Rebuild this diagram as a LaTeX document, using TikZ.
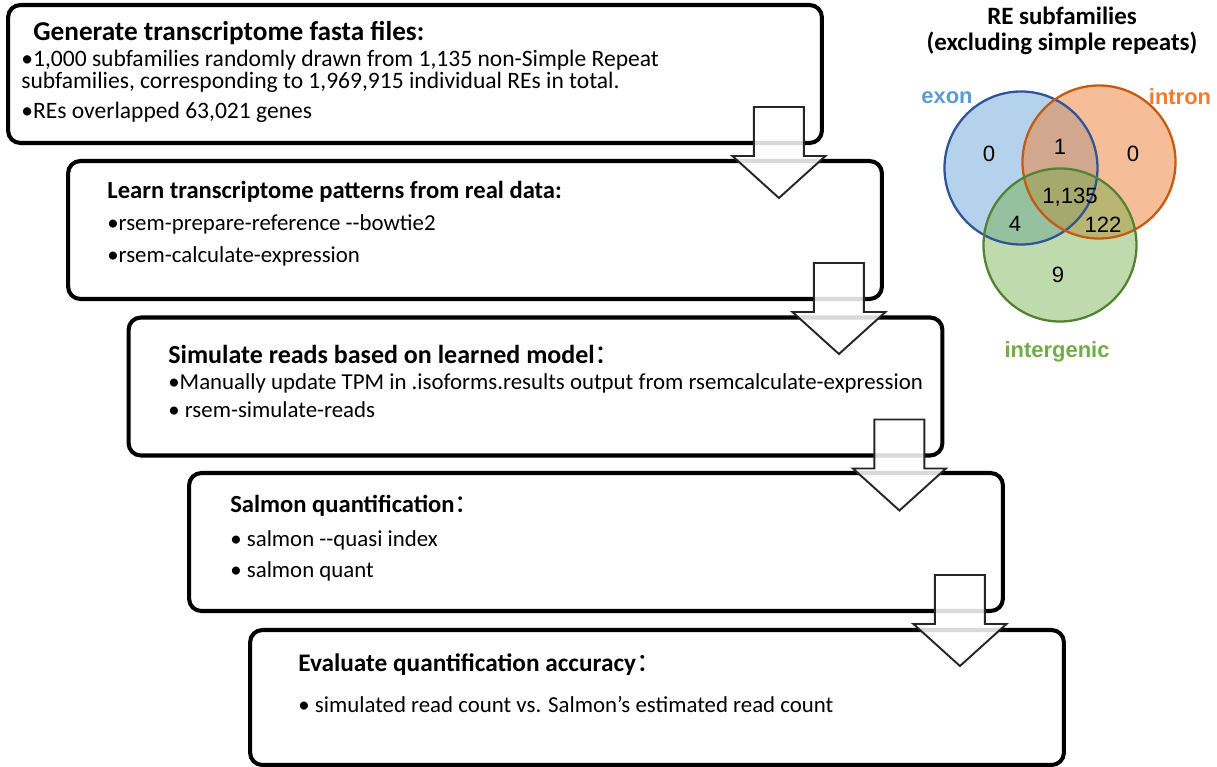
\documentclass[tikz,border=0pt]{standalone}
\usepackage{fontspec}
\setmainfont{Carlito}
\newfontfamily\arialfont{Liberation Sans}
\newfontfamily\cjk{Noto Sans CJK SC}
\usepackage{xcolor}
\definecolor{exonblue}{RGB}{91,155,213}
\definecolor{exonline}{RGB}{47,85,151}
\definecolor{intronorange}{RGB}{237,125,49}
\definecolor{intronline}{RGB}{197,90,17}
\definecolor{intergreen}{RGB}{112,173,71}
\definecolor{interline}{RGB}{84,130,53}
\definecolor{arrowgray}{RGB}{38,38,38}
\usepackage{tikz}
\usetikzlibrary{calc, positioning}

\tikzset{
  stepbox/.style={draw=black, line width=2.3pt, rounded corners=7pt,
    minimum width=16.28cm, minimum height=2.76cm, inner sep=0pt},
  steptitle/.style={anchor=west, font=\fontsize{14}{16}\selectfont\bfseries, inner sep=0pt},
  stepitem/.style={anchor=west, font=\fontsize{13}{12.5}\selectfont, inner sep=0pt, align=left},
  vennset/.style={circle, minimum size=3.06cm, inner sep=0pt},
  vennlabel/.style={font=\arialfont\bfseries\fontsize{12.5}{14}\selectfont, inner sep=0pt},
  vennnum/.style={font=\arialfont\fontsize{12.6}{14}\selectfont, inner sep=0pt}
}
\newcommand{\fwcolon}{{\cjk\mdseries ：}}

\begin{document}
\begin{tikzpicture}[x=0.02cm, y=-0.02cm]
\useasboundingbox (0,0) rectangle (1217,767);

% === Step boxes ===
\node[stepbox] (box1) at (415,74) {};
\node[stepbox] (box2) at (475,230) {};
\node[stepbox] (box3) at (535.5,386.5) {};
\node[stepbox] (box4) at (596,542) {};
\node[stepbox, minimum height=2.7cm] (box5) at (657,697.5) {};

% Block arrows between steps (half see-through)
\foreach \i in {1,2,3,4} {
  \draw[arrowgray, line width=1.1pt, fill=white, fill opacity=0.85, line join=miter]
    ($(box\i.south east)+(-70,-38)$) -- ++(50,0) -- ++(0,49) -- ++(21.5,0)
    -- ++(-46.5,42) -- ++(-46.5,-42) -- ++(21.5,0) -- cycle;
}

% === Step 1 ===
\node[steptitle, font=\fontsize{15.5}{17}\selectfont\bfseries] (t1) at (33,33)
  {Generate transcriptome fasta files:};
\node[stepitem, font=\fontsize{13.4}{12.5}\selectfont] (i1a) at (21,71)
  {•1,000 subfamilies randomly drawn from 1,135 non-Simple Repeat\\
   subfamilies, corresponding to 1,969,915 individual REs in total.};
\node[stepitem, font=\fontsize{13.4}{12.5}\selectfont] (i1b) at (21,112)
  {•REs overlapped 63,021 genes};

% === Step 2 ===
\node[steptitle] (t2) at (107,192) {Learn transcriptome patterns from real data:};
\node[stepitem] (i2a) at (107,224) {•rsem-prepare-reference -{}-bowtie2};
\node[stepitem] (i2b) at (107,256) {•rsem-calculate-expression};

% === Step 3 ===
\node[steptitle, font=\fontsize{14.8}{17}\selectfont\bfseries] (t3) at (168,354)
  {Simulate reads based on learned model\fwcolon};
\node[stepitem] (i3a) at (168,383)
  {•Manually update TPM in .isoforms.results output from rsemcalculate-expression};
\node[stepitem] (i3b) at (168,410) {• rsem-simulate-reads};

% === Step 4 ===
\node[steptitle] (t4) at (230,506) {Salmon quantification\fwcolon};
\node[stepitem] (i4a) at (230,540) {• salmon -{}-quasi index};
\node[stepitem] (i4b) at (230,571) {• salmon quant};

% === Step 5 ===
\node[steptitle, font=\fontsize{14.4}{17}\selectfont\bfseries] (t5) at (298,665)
  {Evaluate quantification accuracy\fwcolon};
\node[stepitem] (i5a) at (298,705) {• simulated read count vs. Salmon’s estimated read count};

% === Venn diagram ===
\node[font=\fontsize{14.2}{14.7}\selectfont\bfseries, align=center, inner sep=0pt] (vtitle) at (1062,31)
  {RE subfamilies\\(excluding simple repeats)};

% fills first, outlines on top
\node[vennset, fill=exonblue, fill opacity=0.45] (exonset) at (1021,168) {};
\node[vennset, fill=intronorange, fill opacity=0.5] (intronset) at (1099,162) {};
\node[vennset, fill=intergreen, fill opacity=0.45] (interset) at (1060,245) {};
\draw[exonline, line width=1.3pt] (exonset.center) circle (76.5);
\draw[intronline, line width=1.3pt] (intronset.center) circle (76.5);
\draw[interline, line width=1.3pt] (interset.center) circle (76.5);

\node[vennlabel, text=exonblue] (exonlab) at (947,98) {exon};
\node[vennlabel, text=intronorange] (intronlab) at (1180,97) {intron};
\node[vennlabel, text=intergreen] (interlab) at (1057,352) {intergenic};

\node[vennnum] (nE) at (989,154) {0};
\node[vennnum] (nEI) at (1060,147) {1};
\node[vennnum] (nI) at (1133,154) {0};
\node[vennnum] (nAll) at (1070,197) {1,135};
\node[vennnum] (nEG) at (1015,224) {4};
\node[vennnum] (nIG) at (1103,225) {122};
\node[vennnum] (nG) at (1058,275) {9};

\end{tikzpicture}
\end{document}
